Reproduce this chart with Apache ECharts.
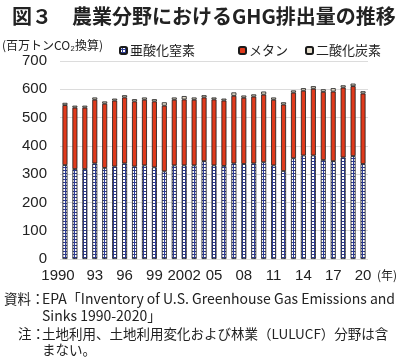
<!DOCTYPE html>
<html>
<head>
<meta charset="utf-8">
<script src="https://cdn.jsdelivr.net/npm/echarts@6/dist/echarts.min.js"></script>
<style>
html,body{margin:0;padding:0;background:#fff;}
#c{width:399px;height:362px;}
</style>
</head>
<body>
<div id="c"></div>
<script>
const years = ['1990','1991','1992','1993','1994','1995','1996','1997','1998','1999','2000','2001','2002','2003','2004','2005','2006','2007','2008','2009','2010','2011','2012','2013','2014','2015','2016','2017','2018','2019','2020'];
const xTickLabels = ['1990','93','96','99','2002','05','08','11','14','17','20'];
const yTicks = [0,100,200,300,400,500,600,700];
const seriesNames = ['亜酸化窒素','メタン','二酸化炭素'];
const n2o = [332,318,318,338,322,327,338,327,331,324,310,331,331,331,346,331,329,338,336,338,342,331,311,356,366,366,350,346,359,364,336];
const ch4 = [212,217,217,225,227,233,233,230,232,233,232,232,233,232,225,233,231,239,234,236,239,232,235,232,229,236,241,246,247,247,249];
const co2 = [8,7,7,8,8,7,8,8,8,8,12,8,12,8,8,7,7,12,8,8,11,8,8,8,9,9,9,12,8,9,8];

const FONT = '"Noto Sans CJK JP", sans-serif';
const NUMFONT = '"Liberation Sans", Arial, sans-serif';

// blue grid pattern
const pc = document.createElement('canvas');
pc.width = 3; pc.height = 3;
const pctx = pc.getContext('2d');
pctx.fillStyle = '#2c3a92';
pctx.fillRect(0,0,3,3);
pctx.fillStyle = '#ffffff';
pctx.fillRect(0,0,2,2);
const n2oColor = {image: pc, repeat: 'repeat'};

const chart = echarts.init(document.getElementById('c'), null, {renderer:'canvas'});
const legendBase = {
  top: 39, itemWidth: 7, itemHeight: 7, itemGap: 0,
  textStyle: {fontFamily: FONT, fontSize: 13, color: '#222', padding: [0,0,0,-2]},
  selectedMode: false
};
chart.setOption({
  animation: false,
  backgroundColor: '#fff',
  title: {
    text: '図３　農業分野におけるGHG排出量の推移',
    left: 7, top: 1,
    textStyle: {fontFamily: FONT, fontSize: 20, fontWeight: 'bold', color: '#222'}
  },
  legend: [
    Object.assign({}, legendBase, {left: 114, data: [seriesNames[0]]}),
    Object.assign({}, legendBase, {left: 233, data: [seriesNames[1]]}),
    Object.assign({}, legendBase, {left: 300, data: [seriesNames[2]]})
  ],
  grid: {left: 60, right: 31, top: 61, bottom: 103},
  xAxis: {
    type: 'category',
    data: years,
    axisLine: {show: false},
    axisTick: {show: false},
    axisLabel: {
      interval: 2,
      margin: 9,
      fontFamily: NUMFONT, fontSize: 15, color: '#222',
      formatter: function (v, i) {
        const lab = xTickLabels[Math.round(i / 3)];
        return i === 0 ? '{f|' + lab + '}' : lab;
      },
      rich: {f: {fontFamily: NUMFONT, fontSize: 15, color: '#222', padding: [0, 14, 0, 0]}}
    }
  },
  yAxis: {
    type: 'value',
    min: yTicks[0], max: yTicks[yTicks.length-1], interval: 100,
    axisLine: {show: false},
    axisTick: {show: false},
    splitLine: {lineStyle: {color: '#dcdcdc', width: 1}},
    axisLabel: {fontFamily: NUMFONT, fontSize: 15, color: '#222', margin: 13}
  },
  graphic: [
    {type: 'text', left: 2, top: 39, style: {text: '(百万トンCO₂換算)', font: '12px ' + FONT, fill: '#222'}},
    {type: 'text', left: 377, top: 269, style: {text: '(年)', font: '12px ' + FONT, fill: '#222'}},
    {type: 'text', left: 4, top: 292, style: {text: '資料：', font: '13.5px ' + FONT, fill: '#222'}},
    {type: 'text', left: 42, top: 292, style: {text: 'EPA「Inventory of U.S. Greenhouse Gas Emissions and', font: '14px ' + FONT, fill: '#222'}},
    {type: 'text', left: 42, top: 309, style: {text: 'Sinks 1990-2020」', font: '14px ' + FONT, fill: '#222'}},
    {type: 'text', left: 18, top: 327, style: {text: '注：', font: '13.5px ' + FONT, fill: '#222'}},
    {type: 'text', left: 42, top: 327, style: {text: '土地利用、土地利用変化および林業（LULUCF）分野は含', font: '13.5px ' + FONT, fill: '#222'}},
    {type: 'text', left: 42, top: 343, style: {text: 'まない。', font: '13.5px ' + FONT, fill: '#222'}}
  ],
  series: [
    {name: seriesNames[0], type: 'bar', stack: 'a', data: n2o, barWidth: 5,
     itemStyle: {color: n2oColor, borderColor: '#1a1a1a', borderWidth: 0.8}},
    {name: seriesNames[1], type: 'bar', stack: 'a', data: ch4, barWidth: 5,
     itemStyle: {color: '#e03a1c', borderColor: '#1a1a1a', borderWidth: 0.8}},
    {name: seriesNames[2], type: 'bar', stack: 'a', data: co2, barWidth: 5,
     itemStyle: {color: '#e4dccb', borderColor: '#1a1a1a', borderWidth: 0.8}}
  ]
});
</script>
</body>
</html>
